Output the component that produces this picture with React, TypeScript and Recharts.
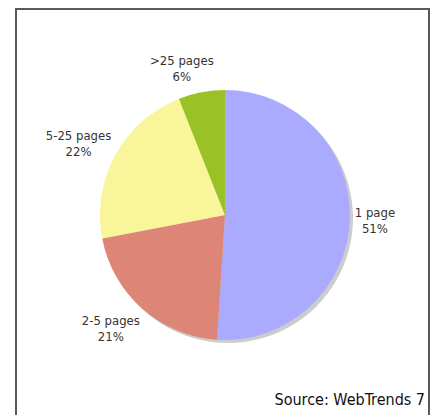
import { PieChart, Pie, Cell } from 'recharts';

const categories = ['1 page', '2-5 pages', '5-25 pages', '>25 pages'];
const shares = [51, 21, 22, 6];
const colors = ['#aaabfe', '#dd8677', '#f9f59b', '#9ac224'];

const data = categories.map((name, i) => ({ name, value: shares[i] }));
const shadow = [{ name: 'shadow', value: 100 }];

const RAD = Math.PI / 180;
const FONT = "'DejaVu Sans Condensed', 'DejaVu Sans', sans-serif";

function renderLabel(props: any) {
  const { cx, cy, midAngle, outerRadius, index } = props;
  const r = outerRadius + 25;
  const cos = Math.cos(-midAngle * RAD);
  // labels on the left sit a little further out
  const x = cx + r * cos + (cos < 0 ? -15 : 0);
  const y = cy + r * Math.sin(-midAngle * RAD);
  return (
    <text x={x} y={y - 3} textAnchor="middle" fill="#333" fontSize={13} fontFamily={FONT}>
      <tspan x={x} dy={0}>{categories[index]}</tspan>
      <tspan x={x} dy={16}>{shares[index]}%</tspan>
    </text>
  );
}

export default function App() {
  return (
    <div style={{ position: 'absolute', left: 0, top: 0, width: 433, height: 415, background: '#fff' }}>
      <div
        style={{
          position: 'absolute', left: 15, top: 8, width: 411, height: 420,
          border: '2px solid #5a5a5a', boxSizing: 'content-box',
        }}
      />
      <PieChart
        width={433}
        height={415}
        margin={{ top: 0, right: 0, bottom: 0, left: 0 }}
        style={{ position: 'absolute', left: 0, top: 0 }}
      >
        <Pie
          data={shadow}
          dataKey="value"
          cx={228}
          cy={218}
          outerRadius={125}
          startAngle={90}
          endAngle={-270}
          fill="#cccccc"
          stroke="none"
          isAnimationActive={false}
        />
        <Pie
          data={data}
          dataKey="value"
          cx={225}
          cy={215}
          outerRadius={125}
          startAngle={90}
          endAngle={-270}
          stroke="none"
          label={renderLabel}
          labelLine={false}
          isAnimationActive={false}
        >
          {data.map((d, i) => (
            <Cell key={d.name} fill={colors[i]} />
          ))}
        </Pie>
      </PieChart>
      <div
        style={{
          position: 'absolute', right: 8, top: 390,
          fontFamily: FONT, fontSize: 16, color: '#111',
        }}
      >
        Source: WebTrends 7
      </div>
    </div>
  );
}
